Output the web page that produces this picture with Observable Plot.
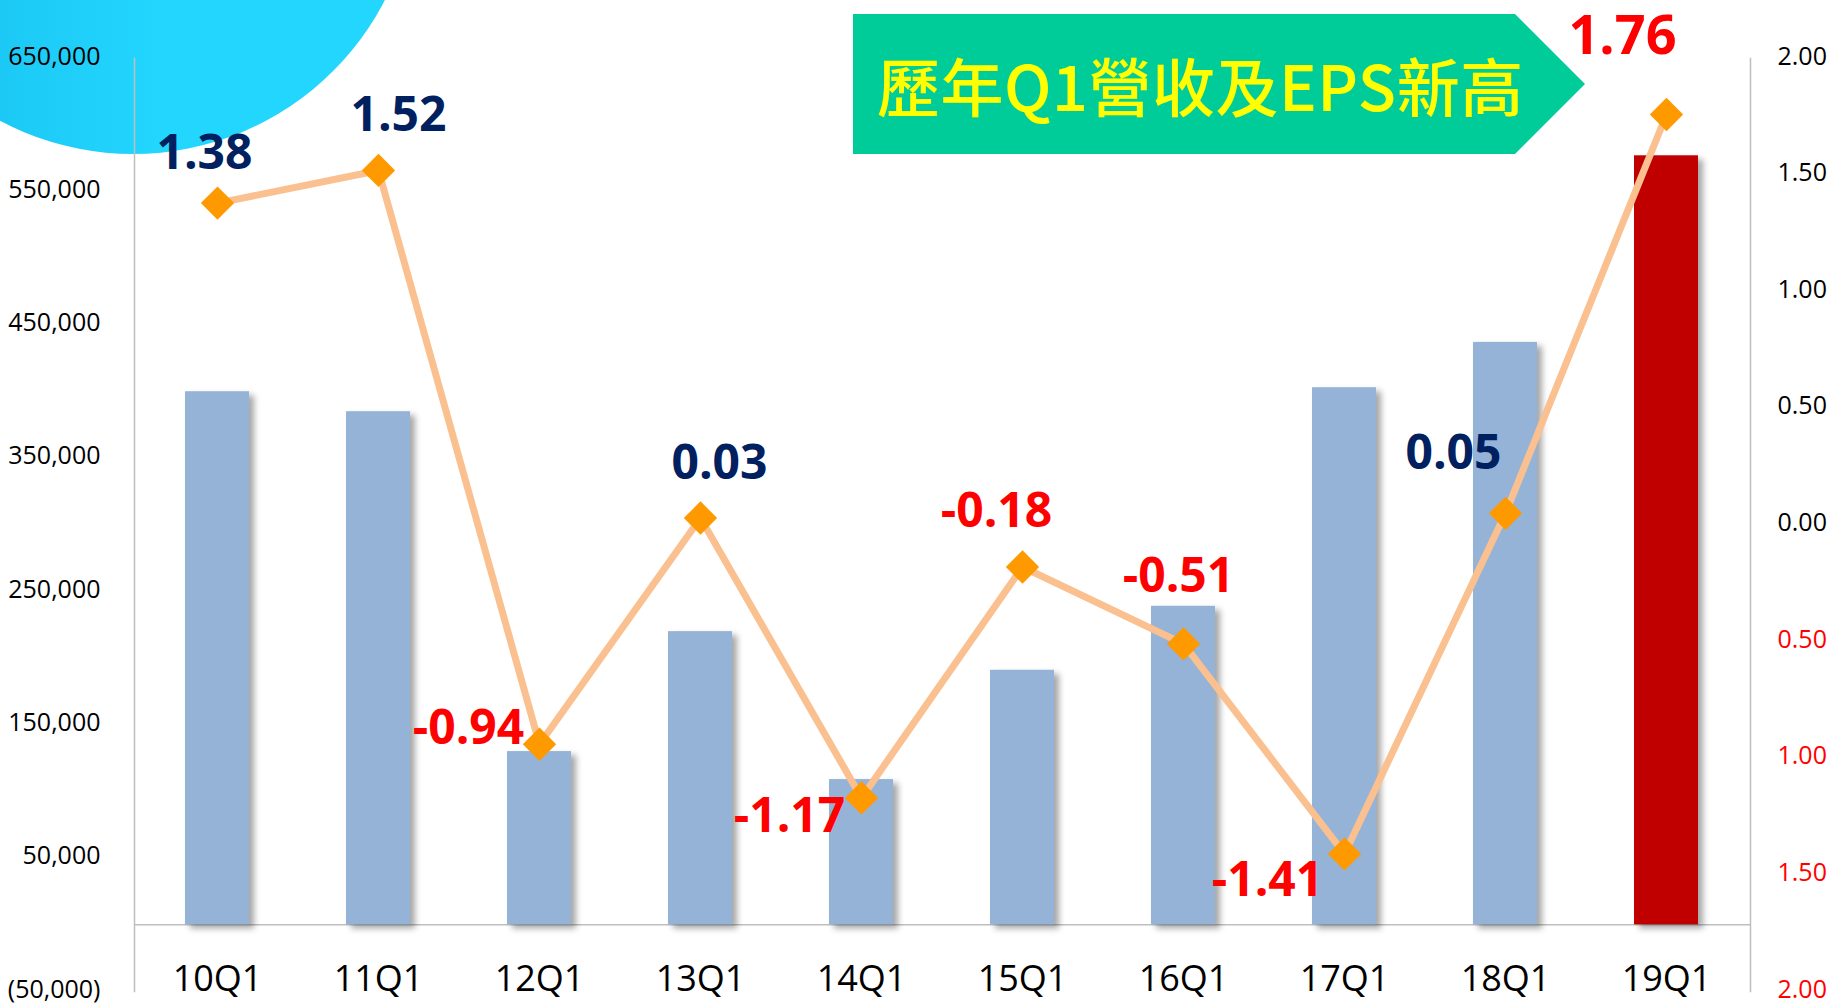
<!DOCTYPE html>
<html>
<head>
<meta charset="utf-8">
<script src="https://cdn.jsdelivr.net/npm/d3@7"></script>
<script src="https://cdn.jsdelivr.net/npm/@observablehq/plot@0.6"></script>
<style>
  html, body { margin: 0; padding: 0; background: #fff; }
  #wrap { position: relative; width: 1833px; height: 1004px; overflow: hidden; }
  #circle { position: absolute; left: -150px; top: -412px; width: 566px; height: 566px; border-radius: 50%;
            background: linear-gradient(90deg, #17bdee 0%, #22d6fe 55%, #22d6fe 100%); }
  #banner { position: absolute; left: 853px; top: 14px; width: 732px; height: 140px; background: #00cc99;
            clip-path: polygon(0 0, 662px 0, 732px 70px, 662px 140px, 0 140px);
            font-family: "Noto Sans CJK TC", sans-serif; font-weight: 500; color: #ffff00; font-size: 63px;
            line-height: 140px; padding-left: 24px; box-sizing: border-box; white-space: nowrap; letter-spacing: 0.5px; }
  #chart { position: absolute; left: 0; top: 0; }
  g[aria-label="bar"] rect { filter: drop-shadow(5px 4px 3px rgba(0,0,0,0.35)); }
</style>
</head>
<body>
<div id="wrap">
  <div id="circle"></div>
  <div id="chart"></div>
  <div id="banner">歷年Q1營收及EPS新高</div>
</div>
<script>
// ---- data ----
const categories = ["10Q1","11Q1","12Q1","13Q1","14Q1","15Q1","16Q1","17Q1","18Q1","19Q1"];
const revenue = [400000, 385000, 130000, 220000, 109000, 191000, 239000, 403000, 437000, 577000];
const eps = [1.38, 1.52, -0.94, 0.03, -1.17, -0.18, -0.51, -1.41, 0.05, 1.76];
const leftTicks = [-50000, 50000, 150000, 250000, 350000, 450000, 550000, 650000];
const rightTicks = [-2, -1.5, -1, -0.5, 0, 0.5, 1, 1.5, 2];

// ---- layout (label offsets relative to each point, px) ----
const labelDx = [-13, 20, -71, 19, -72, -26, -5, -77, -52, -44];
const labelDy = [-49, -55, -16, -54, 19, -55, -67, 27, -60, -78];

// secondary axis mapping: eps [-2,2] -> revenue scale [-50000,650000]
const revMin = -50000, revMax = 650000, epsMin = -2, epsMax = 2;
const toRev = e => revMin + (e - epsMin) / (epsMax - epsMin) * (revMax - revMin);
const toEps = r => epsMin + (r - revMin) / (revMax - revMin) * (epsMax - epsMin);

const rows = categories.map((c, i) => ({cat: c, rev: revenue[i], eps: eps[i], epsY: toRev(eps[i]), i}));

const fmtK = d3.format(",");
const leftFmt = d => d < 0 ? `(${fmtK(-d)})` : fmtK(d);
const gray = "#bfbfbf";
const font = "'Open Sans', sans-serif";

const labelMarks = rows.map((r, i) => Plot.text([r], {
  x: "cat", y: "epsY", text: d => d.eps.toFixed(2),
  dx: labelDx[i], dy: labelDy[i],
  fill: (r.eps < 0 || i === rows.length - 1) ? "#ff0000" : "#002060",
  fontSize: i === rows.length - 1 ? 54 : 48, fontWeight: 700,
  textAnchor: "middle", lineAnchor: "middle"
}));

const chart = Plot.plot({
  width: 1833, height: 1004,
  marginLeft: 134, marginRight: 83, marginTop: 58, marginBottom: 13,
  style: {fontFamily: font, background: "transparent", overflow: "visible", color: "#000"},
  x: {domain: categories, paddingInner: 0.6, paddingOuter: 0.3, axis: null},
  y: {domain: [revMin, revMax], axis: null},
  marks: [
    Plot.frame({anchor: "left", stroke: gray, strokeWidth: 1.5}),
    Plot.frame({anchor: "right", stroke: gray, strokeWidth: 1.5}),
    Plot.ruleY([0], {stroke: gray, strokeWidth: 1.5}),
    Plot.barY(rows, {x: "cat", y: "rev", fill: d => d.cat === "19Q1" ? "#c00000" : "#95b3d7"}),
    Plot.axisY(leftTicks, {anchor: "left", tickSize: 0, tickPadding: 34, tickFormat: leftFmt, fontSize: 25, fill: "#000", dy: -2, label: null}),
    Plot.axisY(rightTicks.filter(t => t >= 0).map(toRev), {anchor: "right", tickSize: 0, tickPadding: 27,
      tickFormat: d => Math.abs(toEps(d)).toFixed(2), fontSize: 25, fill: "#000", dy: -2, label: null}),
    Plot.axisY(rightTicks.filter(t => t < 0).map(toRev), {anchor: "right", tickSize: 0, tickPadding: 27,
      tickFormat: d => Math.abs(toEps(d)).toFixed(2), fontSize: 25, fill: "#ff0000", dy: -2, label: null}),
    Plot.axisX({anchor: "bottom", tickSize: 0, tickPadding: 0, dy: -26, fontSize: 36, fill: "#000", label: null}),
    Plot.line(rows, {x: "cat", y: "epsY", stroke: "#fac090", strokeWidth: 7}),
    Plot.dot(rows, {x: "cat", y: "epsY", symbol: "diamond2", r: 15, fill: "#ff9900", stroke: "none"}),
    ...labelMarks
  ]
});
document.getElementById("chart").appendChild(chart);
</script>
</body>
</html>
